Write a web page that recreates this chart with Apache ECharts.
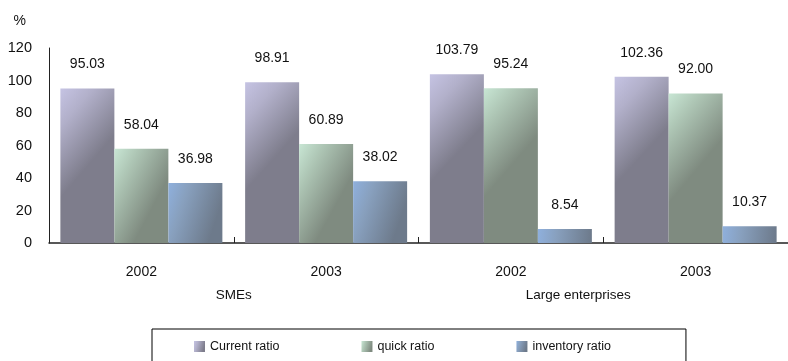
<!DOCTYPE html>
<html>
<head>
<meta charset="utf-8">
<script src="https://cdn.jsdelivr.net/npm/echarts@6/dist/echarts.min.js"></script>
<style>
  html, body { margin: 0; padding: 0; background: #fff; }
  #main { width: 788px; height: 361px; }
</style>
</head>
<body>
<div id="main"></div>
<script>
// data
var years = ['2002', '2003', '2002', '2003'];
var groups = ['SMEs', 'Large enterprises'];
var currentRatio = [95.03, 98.91, 103.79, 102.36];
var quickRatio = [58.04, 60.89, 95.24, 92.00];
var inventoryRatio = [36.98, 38.02, 8.54, 10.37];

var byId = function(id) {
	return document.getElementById(id);
};

// horizontal shading like the old office charts: light on the left, dark on the right
var shade = function(light, mid, dark) {
	return new echarts.graphic.LinearGradient(0, 0, 1, 0.3, [
		{ offset: 0, color: light },
		{ offset: 0.35, color: mid },
		{ offset: 1, color: dark }
	]);
};

var makeSeries = function(name, data, color) {
	return {
		name: name,
		type: 'bar',
		data: data,
		barWidth: 54,
		barGap: '0%',
		itemStyle: { color: color },
		label: {
			show: true,
			position: 'top',
			distance: 17,
			color: '#111',
			fontSize: 14,
			fontFamily: 'Liberation Sans',
			formatter: function(p) {
				return p.value.toFixed(2);
			}
		}
	};
};

var option = {
	animation: false,
	backgroundColor: '#fff',
	textStyle: { fontFamily: 'Liberation Sans' },
	grid: {
		left: 49,
		right: -7,
		top: 48,
		bottom: 118
	},
	legend: {
		left: 152,
		top: 329,
		padding: [11, 75, 20, 42],
		itemGap: 82,
		itemWidth: 11,
		itemHeight: 11,
		itemTextGap: 5,
		icon: 'rect',
		borderColor: '#000',
		borderWidth: 1,
		textStyle: { color: '#111', fontSize: 12.5, fontFamily: 'Liberation Sans' },
		data: ['Current ratio', 'quick ratio', 'inventory ratio']
	},
	xAxis: [{
		type: 'category',
		data: years,
		axisLine: { lineStyle: { color: '#222', width: 1.5 } },
		axisTick: { show: true, inside: true, length: 6, lineStyle: { color: '#222' } },
		axisLabel: { color: '#111', fontSize: 14, margin: 22 }
	}, {
		type: 'category',
		position: 'bottom',
		data: [
			{ value: groups[0] },
			{ value: groups[1], textStyle: { padding: [0, 50, 0, 0] } }
		],
		axisLine: { show: false },
		axisTick: { show: false },
		axisLabel: { color: '#111', fontSize: 13.5, margin: 45 }
	}],
	yAxis: {
		type: 'value',
		min: 0,
		max: 120,
		interval: 20,
		name: '%',
		nameLocation: 'end',
		nameGap: 27,
		nameTextStyle: { color: '#111', fontSize: 14, align: 'right', verticalAlign: 'middle', padding: [0, 23, 0, 0] },
		axisLine: { show: true, lineStyle: { color: '#222', width: 1 } },
		axisTick: { show: false },
		splitLine: { show: false },
		axisLabel: { color: '#111', fontSize: 14.5, margin: 17 }
	},
	series: [
		makeSeries('Current ratio', currentRatio, shade('#c5c3e3', '#b2b0ca', '#7e7d8c')),
		makeSeries('quick ratio', quickRatio, shade('#c8e6d4', '#aec6b5', '#7f8b80')),
		makeSeries('inventory ratio', inventoryRatio, shade('#8fb0dd', '#88a0be', '#6d7a8b'))
	]
};

var chart = echarts.init(byId('main'));
chart.setOption(option);
</script>
</body>
</html>
